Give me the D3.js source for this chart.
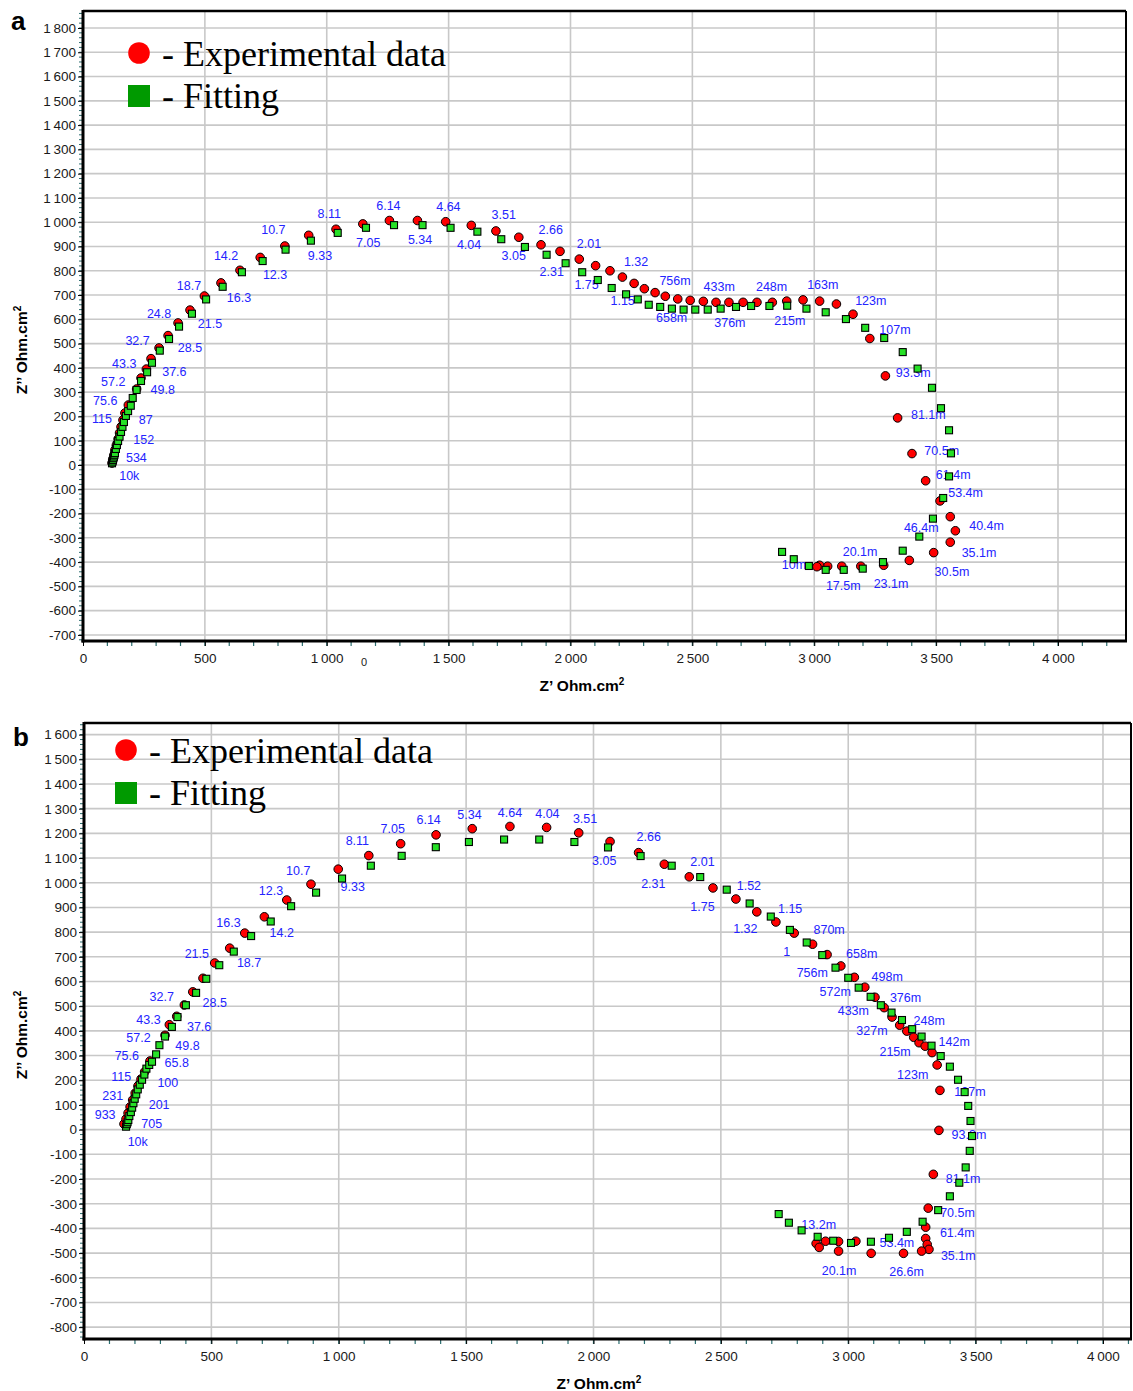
<!DOCTYPE html>
<html>
<head>
<meta charset="utf-8">
<script src="https://cdn.jsdelivr.net/npm/d3@7/dist/d3.min.js"></script>
<style>
  body { margin: 0; background: #fff; }
</style>
</head>
<body>
<svg id="chart" width="1133" height="1391"></svg>
<script>
// ---- panel a ----
var expA = [[119,8],[123,25],[127,41],[131,62],[137,82],[144,107],[150,132],[156,157],[164,185],[172,214],[186,247],[220,313],[238,358],[260,395],[279,438],[312,482],[349,533],[390,585],[439,638],[498,696],[566,750],[644,802],[727,855],[828,902],[926,946],[1038,971],[1148,993],[1257,1007],[1372,1007],[1488,1002],[1593,987],[1694,964],[1788,938],[1879,907],[1957,880],[2036,848],[2103,821],[2162,800],[2213,774],[2261,748],[2303,726],[2347,710],[2389,695],[2440,684],[2491,678],[2545,674],[2597,670],[2650,670],[2708,670],[2765,670],[2828,670],[2887,675],[2954,680],[3022,675],[3091,663],[3159,621],[3228,521],[3292,367],[3342,194],[3401,47],[3457,-65],[3516,-148],[3558,-213],[3579,-271],[3558,-318],[3490,-361],[3390,-393],[3285,-413],[3191,-417],[3113,-417],[3055,-417],[3022,-413],[3011,-419]];

var fitA = [[119,7],[121,14],[123,21],[125,28],[127,35],[129,42],[131,49],[135,66],[139,82],[144,99],[150,117],[156,136],[162,157],[168,177],[176,202],[185,222],[196,244],[204,276],[220,309],[238,346],[263,382],[283,421],[315,471],[353,519],[394,570],[447,623],[505,682],[573,734],[652,794],[737,840],[831,887],[935,924],[1045,956],[1161,977],[1276,988],[1393,988],[1508,977],[1618,961],[1716,930],[1813,898],[1902,866],[1980,831],[2048,794],[2112,762],[2169,729],[2228,703],[2276,682],[2321,660],[2368,651],[2416,644],[2464,640],[2512,640],[2563,640],[2616,644],[2679,651],[2741,655],[2816,655],[2889,656],[2968,644],[3047,629],[3130,601],[3209,565],[3287,523],[3363,465],[3424,397],[3483,318],[3520,234],[3553,143],[3561,48],[3553,-47],[3529,-136],[3487,-221],[3431,-295],[3363,-353],[3282,-400],[3199,-427],[3121,-432],[3047,-432],[2978,-416],[2916,-388],[2868,-358]];

// frequency labels: [text, z', z'']
var labelsA = [["10.7",781,968],["8.11",1010,1034],["6.14",1253,1068],["4.64",1499,1064],["3.51",1726,1032],["2.66",1919,972],["2.01",2076,913],["1.32",2269,837],["756m",2429,758],["433m",2610,734],["248m",2825,734],["163m",3035,743],["123m",3232,677],["107m",3331,559],["93.3m",3406,382],["81.1m",3468,206],["70.5m",3523,59],["61.4m",3570,-40],["53.4m",3621,-114],["40.4m",3707,-251],["46.4m",3439,-258],["35.1m",3676,-362],["30.5m",3565,-438],["23.1m",3315,-489],["20.1m",3188,-358],["17.5m",3119,-498],["10m",2917,-408],["215m",2900,597],["376m",2654,588],["658m",2415,608],["1.15",2214,677],["1.75",2066,743],["2.31",1923,798],["3.05",1767,862],["4.04",1584,907],["5.34",1383,930],["7.05",1170,916],["9.33",972,862],["12.3",788,783],["16.3",640,689],["21.5",521,582],["28.5",439,482],["37.6",375,387],["49.8",327,313],["87",257,187],["152",249,107],["534",219,29],["10k",190,-45],["115",78,191],["75.6",91,265],["57.2",124,345],["43.3",169,419],["32.7",224,514],["24.8",312,623],["18.7",435,738],["14.2",587,861]];

// ---- panel b ----
var expB = [[157,23],[165,43],[173,67],[181,92],[191,120],[201,148],[212,177],[224,205],[238,234],[259,278],[318,382],[335,425],[364,459],[394,505],[427,558],[467,613],[513,675],[572,735],[631,796],[708,862],[796,930],[891,994],[998,1055],[1118,1110],[1243,1158],[1382,1194],[1524,1219],[1672,1228],[1816,1224],[1942,1202],[2065,1167],[2177,1122],[2278,1075],[2376,1024],[2469,979],[2559,934],[2641,882],[2716,841],[2788,796],[2860,751],[2917,709],[2971,663],[3024,617],[3065,577],[3105,536],[3141,494],[3172,456],[3202,423],[3230,399],[3257,374],[3278,352],[3302,338],[3329,312],[3349,262],[3360,159],[3356,-3],[3334,-181],[3314,-318],[3304,-395],[3304,-441],[3310,-465],[3317,-485],[3288,-492],[3217,-501],[3090,-501],[2962,-492],[3030,-452],[2962,-453],[2911,-452],[2874,-461],[2886,-477]];

var fitB = [[165,12],[168,22],[171,30],[174,39],[178,55],[184,71],[189,89],[194,107],[199,125],[205,143],[211,163],[219,182],[228,202],[237,223],[245,247],[256,262],[267,275],[283,305],[296,342],[318,377],[345,416],[367,456],[400,504],[440,554],[480,611],[531,666],[588,721],[656,784],[733,843],[813,905],[911,960],[1013,1017],[1126,1069],[1247,1109],[1381,1144],[1511,1165],[1649,1175],[1787,1175],[1925,1165],[2057,1143],[2185,1108],[2307,1069],[2419,1023],[2523,972],[2613,916],[2696,863],[2771,809],[2837,758],[2898,707],[2950,656],[3000,615],[3041,575],[3088,538],[3128,504],[3170,474],[3211,444],[3251,407],[3288,377],[3327,340],[3363,298],[3399,255],[3431,202],[3457,152],[3471,96],[3480,35],[3486,-26],[3477,-86],[3461,-153],[3436,-215],[3399,-270],[3353,-326],[3292,-373],[3230,-414],[3160,-438],[3089,-454],[3011,-459],[2941,-450],[2880,-434],[2817,-408],[2767,-377],[2727,-342]];

var labelsB = [["8.11",1073,1171],["10.7",841,1048],["9.33",1055,983],["12.3",734,970],["16.3",567,840],["14.2",776,800],["7.05",1212,1221],["6.14",1353,1258],["5.34",1513,1278],["18.7",648,678],["21.5",443,715],["32.7",305,540],["28.5",513,516],["43.3",253,448],["37.6",452,419],["57.2",214,373],["49.8",406,342],["75.6",168,300],["65.8",364,271],["115",146,214],["100",329,189],["231",113,139],["201",295,103],["933",83,63],["705",266,23],["10k",211,-49],["4.64",1672,1286],["4.04",1819,1282],["3.51",1967,1262],["3.05",2042,1090],["2.66",2217,1186],["2.31",2235,998],["2.01",2428,1085],["1.75",2428,905],["1.52",2610,987],["1.32",2596,816],["1.15",2772,897],["870m",2925,809],["1",2759,723],["658m",3053,715],["756m",2859,638],["572m",2949,561],["498m",3153,620],["433m",3020,482],["376m",3225,535],["327m",3093,403],["248m",3318,444],["215m",3184,316],["142m",3416,356],["123m",3253,224],["107m",3478,156],["93.3m",3474,-21],["81.1m",3451,-199],["70.5m",3429,-337],["61.4m",3428,-416],["35.1m",3432,-508],["13.2m",2884,-385],["53.4m",3191,-458],["20.1m",2964,-569],["26.6m",3229,-573]];

var xTicks = [0, 500, 1000, 1500, 2000, 2500, 3000, 3500, 4000];
var yTicksA = d3.range(-700, 1801, 100);
var yTicksB = d3.range(-800, 1601, 100);
var legendNames = ["- Experimental data", "- Fitting"];

var svg = d3.select("#chart");
var sans = "'Liberation Sans', Arial, sans-serif";

function fmt(d) {
    var s = String(Math.abs(d));
    if (Math.abs(d) >= 1000) s = s.slice(0, -3) + "\u2009" + s.slice(-3);
    return (d < 0 ? "-" : "") + s;
}

function drawPanel(p) {
    var g = svg.append("g");
    var x = d3.scaleLinear().domain([0, p.xMax]).range([p.left, p.right]);
    var y = d3.scaleLinear().domain([p.yMin, p.yMax]).range([p.bottom, p.top]);

    // grid
    g.selectAll(".gx").data(xTicks.slice(1)).enter().append("line")
        .attr("x1", function(d){ return x(d); }).attr("x2", function(d){ return x(d); })
        .attr("y1", p.top).attr("y2", p.bottom)
        .attr("stroke", "#c8c8c8").attr("stroke-width", 1.6);
    g.selectAll(".gy").data(p.yTicks).enter().append("line")
        .attr("x1", p.left).attr("x2", p.right)
        .attr("y1", function(d){ return y(d); }).attr("y2", function(d){ return y(d); })
        .attr("stroke", "#c8c8c8").attr("stroke-width", 1.6);

    // minor ticks
    var minorY = d3.range(Math.ceil(p.yMin / 20) * 20, p.yMax, 20);
    g.selectAll(".my").data(minorY).enter().append("line")
        .attr("x1", p.left - 4).attr("x2", p.left)
        .attr("y1", function(d){ return y(d); }).attr("y2", function(d){ return y(d); })
        .attr("stroke", "#2c6e70").attr("stroke-width", 1);
    var minorX = d3.range(100, p.xMax, 100);
    g.selectAll(".mx").data(minorX).enter().append("line")
        .attr("x1", function(d){ return x(d); }).attr("x2", function(d){ return x(d); })
        .attr("y1", p.bottom).attr("y2", p.bottom + 5)
        .attr("stroke", "#2c6e70").attr("stroke-width", 1.2);

    // axes
    var yAxis = d3.axisLeft(y).tickValues(p.yTicks).tickFormat(fmt).tickSize(5).tickPadding(2);
    var ya = g.append("g").attr("transform", "translate(" + p.left + ",0)").call(yAxis);
    var xAxis = d3.axisBottom(x).tickValues(xTicks).tickFormat(fmt).tickSize(5).tickPadding(7);
    var xa = g.append("g").attr("transform", "translate(0," + p.bottom + ")").call(xAxis);
    [ya, xa].forEach(function(a) {
        a.select(".domain").remove();
        a.selectAll("text").attr("font-family", sans).attr("font-size", 13.5).attr("fill", "#1a1a1a");
        a.selectAll("line").attr("stroke", "#000");
    });

    // frame
    g.append("line").attr("x1", p.left).attr("x2", p.right).attr("y1", p.top).attr("y2", p.top)
        .attr("stroke", "#000").attr("stroke-width", 2.5);
    g.append("line").attr("x1", p.right).attr("x2", p.right).attr("y1", p.top).attr("y2", p.bottom)
        .attr("stroke", "#000").attr("stroke-width", 2);
    g.append("line").attr("x1", p.left).attr("x2", p.left).attr("y1", p.top - 1).attr("y2", p.bottom + 1.5)
        .attr("stroke", "#000").attr("stroke-width", 3);
    g.append("line").attr("x1", p.left - 1.5).attr("x2", p.right + 1).attr("y1", p.bottom).attr("y2", p.bottom)
        .attr("stroke", "#000").attr("stroke-width", 3);

    // frequency labels (under the markers)
    g.selectAll(".lab").data(p.labels).enter().append("text")
        .attr("x", function(d){ return x(d[1]); })
        .attr("y", function(d){ return y(d[2]); })
        .attr("dy", "0.36em")
        .attr("text-anchor", "middle")
        .attr("font-family", sans).attr("font-size", 12.5)
        .attr("fill", "#2424ff")
        .text(function(d){ return d[0]; });

    // experimental points
    g.selectAll(".exp").data(p.exp).enter().append("circle")
        .attr("cx", function(d){ return x(d[0]); })
        .attr("cy", function(d){ return y(d[1]); })
        .attr("r", 4.3)
        .attr("fill", "#ff0000").attr("stroke", "#000").attr("stroke-width", 1);

    // fitting points
    g.selectAll(".fit").data(p.fit).enter().append("rect")
        .attr("x", function(d){ return x(d[0]) - 3.5; })
        .attr("y", function(d){ return y(d[1]) - 3.5; })
        .attr("width", 7).attr("height", 7)
        .attr("fill", "#26e026").attr("stroke", "#000").attr("stroke-width", 1.1);

    // legend
    var lg = g.append("g").attr("transform", "translate(" + p.legX + "," + p.legY + ")");
    lg.append("circle").attr("cx", 11).attr("cy", 0).attr("r", 10.8).attr("fill", "#ff0000");
    lg.append("rect").attr("x", 0).attr("y", 32).attr("width", 22).attr("height", 22).attr("fill", "#009a00");
    lg.selectAll("text").data(legendNames).enter().append("text")
        .attr("x", 34)
        .attr("y", function(d, i){ return 13 + i * 42; })
        .attr("font-family", "'Liberation Serif', 'Times New Roman', serif")
        .attr("font-size", 36)
        .attr("fill", "#000")
        .text(function(d){ return d; });

    // axis titles
    var xt = g.append("text").attr("x", p.xTitleX).attr("y", p.bottom + 50)
        .attr("text-anchor", "middle").attr("font-family", sans)
        .attr("font-size", 15.5).attr("font-weight", "bold").text("Z\u2019 Ohm.cm");
    xt.append("tspan").attr("dy", -6).attr("font-size", 10).text("2");

    var yt = g.append("text")
        .attr("transform", "translate(27," + p.yTitleY + ") rotate(-90)")
        .attr("text-anchor", "middle").attr("font-family", sans)
        .attr("font-size", 15.5).attr("font-weight", "bold").text("Z\u2019\u2019 Ohm.cm");
    yt.append("tspan").attr("dy", -6).attr("font-size", 10).text("2");

    // panel letter
    g.append("text").attr("x", p.letterX).attr("y", p.letterY)
        .attr("font-family", sans).attr("font-size", 26).attr("font-weight", "bold")
        .text(p.letter);

    return { x: x, y: y, g: g };
}

var pa = drawPanel({
    left: 83, right: 1126, top: 11, bottom: 641,
    xMax: 4279, yMin: -725, yMax: 1870, yTicks: yTicksA,
    exp: expA, fit: fitA, labels: labelsA,
    legX: 128, legY: 53, xTitleX: 582, yTitleY: 350,
    letter: "a", letterX: 11, letterY: 30
});

// stray "0" printed under the axis in the original figure
pa.g.append("text").attr("x", pa.x(1153)).attr("y", 666)
    .attr("text-anchor", "middle").attr("font-family", sans).attr("font-size", 11)
    .attr("fill", "#1a1a1a").text("0");

drawPanel({
    left: 84, right: 1131, top: 723, bottom: 1339,
    xMax: 4110, yMin: -848, yMax: 1647, yTicks: yTicksB,
    exp: expB, fit: fitB, labels: labelsB,
    legX: 115, legY: 750, xTitleX: 599, yTitleY: 1035,
    letter: "b", letterX: 13, letterY: 746
});
</script>
</body>
</html>
